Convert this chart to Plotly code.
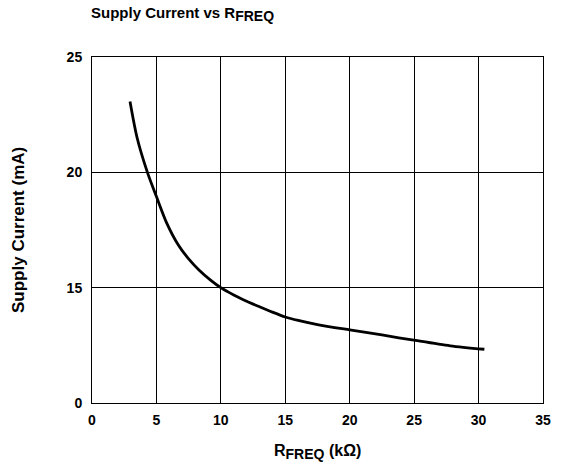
import plotly.graph_objects as go

r_freq = [2.95, 3.5, 4.3, 5.0, 5.8, 6.7, 7.5, 8.3, 9.2, 10.0, 11.0, 12.0, 13.0, 14.0, 15.0, 16.0, 17.5, 20.0, 22.5, 25.1, 27.8, 30.45]
supply_ma = [23.07, 21.5, 20.0, 18.95, 17.8, 16.85, 16.25, 15.77, 15.33, 15.0, 14.68, 14.41, 14.17, 13.94, 13.73, 13.58, 13.4, 13.17, 12.95, 12.71, 12.48, 12.33]

x_ticks = [0, 5, 10, 15, 20, 25, 30, 35]
y_tickvals = [10, 15, 20, 25]
y_ticktext = ["0", "15", "20", "25"]

FAM = "Liberation Sans, Arial, Helvetica, sans-serif"
fnt = dict(family=FAM, color="black")

fig = go.Figure()
fig.add_trace(go.Scatter(x=r_freq, y=supply_ma, mode="lines",
                         line=dict(color="black", width=2.8, shape="spline", smoothing=0.8),
                         showlegend=False, hoverinfo="skip"))

fig.update_layout(
    width=563, height=475,
    margin=dict(l=92, r=13, t=57, b=72),
    paper_bgcolor="white", plot_bgcolor="white",
    font=dict(size=14, **fnt),
    title=dict(text="<b>Supply Current vs R<sub><span style='font-size:14px'>FREQ</span></sub></b>",
               xref="container", yref="container",
               x=91/563, xanchor="left", y=1-13/475, yanchor="middle",
               font=dict(size=15, **fnt)),
    xaxis=dict(range=[0, 35], tickvals=x_ticks, ticktext=[f"<b>{v}</b>" for v in x_ticks],
               showgrid=True, gridcolor="black", gridwidth=1, zeroline=False,
               showline=True, linecolor="black", linewidth=1, mirror=True,
               ticks="", ticklabelstandoff=4, tickfont=dict(size=14, **fnt)),
    yaxis=dict(range=[10, 25], tickvals=y_tickvals, ticktext=[f"<b>{t}</b>" for t in y_ticktext],
               showgrid=True, gridcolor="black", gridwidth=1, zeroline=False,
               showline=True, linecolor="black", linewidth=1, mirror=True,
               ticks="", ticklabelstandoff=6, tickfont=dict(size=14, **fnt)),
    annotations=[
        dict(text="<b>Supply Current (mA)</b>", xref="paper", yref="paper", x=0, y=0.5,
             xanchor="center", yanchor="middle", xshift=-74, textangle=-90, showarrow=False,
             font=dict(size=17, **fnt)),
        dict(text="<b>R<sub><span style='font-size:14px'>FREQ</span></sub> (kΩ)</b>", xref="paper", yref="paper",
             x=0.5, y=0, xanchor="center", yanchor="middle", yshift=-49, showarrow=False,
             font=dict(size=16, **fnt)),
    ],
)

fig.write_html("out.html", config={"displayModeBar": False},
               post_script="document.body.style.margin='0';")
